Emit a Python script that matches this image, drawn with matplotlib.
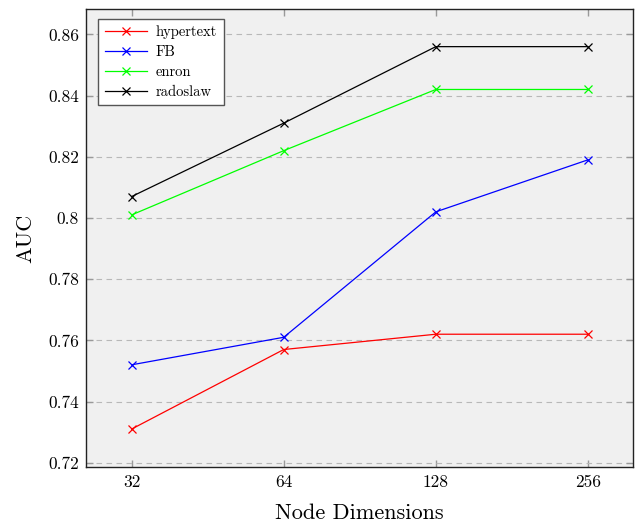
import numpy as np
import matplotlib
matplotlib.use("Agg")
import matplotlib.pyplot as plt

# DATA
dims = [32, 64, 128, 256]
hypertext = [0.731, 0.757, 0.762, 0.762]
fb = [0.752, 0.761, 0.802, 0.819]
enron = [0.801, 0.822, 0.842, 0.842]
radoslaw = [0.807, 0.831, 0.856, 0.856]
yticks = [0.72, 0.74, 0.76, 0.78, 0.80, 0.82, 0.84, 0.86]
ytick_labels = ["0.72", "0.74", "0.76", "0.78", "0.8", "0.82", "0.84", "0.86"]

plt.rcParams['font.family'] = ['cmr10', 'DejaVu Serif']
plt.rcParams['axes.formatter.use_mathtext'] = True

fig = plt.figure(figsize=(6.36, 5.24), dpi=100)
ax = fig.add_axes([0.1352, 0.1082, 0.860, 0.8746])
ax.set_facecolor("#f0f0f0")

series = [("hypertext", hypertext, "#ff0000"),
          ("FB", fb, "#0000ff"),
          ("enron", enron, "#00ff00"),
          ("radoslaw", radoslaw, "#000000")]
for name, vals, col in series:
    ax.plot(dims, vals, color=col, marker='x', markersize=5.5,
            linewidth=0.9, markeredgewidth=0.9, label=name, zorder=3)

# evenly spaced powers of two
ax.set_xscale('log', base=2)
ax.set_xlim(32 * 2 ** -0.3, 256 * 2 ** 0.296)
ax.set_xticks(dims)
ax.set_xticklabels([str(d) for d in dims])
ax.minorticks_off()
ax.set_ylim(0.7185, 0.8683)
ax.set_yticks(yticks)
ax.set_yticklabels(ytick_labels)

ax.grid(axis='y', linestyle=(0, (5, 4)), color="#b8b8b8", linewidth=0.8, zorder=0)
ax.tick_params(direction='in', length=5, color="#999999", top=True, right=True,
               labelsize=12.5, width=1, pad=5)
for s in ax.spines.values():
    s.set_color("#222222")
    s.set_linewidth(1.0)

ax.set_xlabel("Node Dimensions", fontsize=16, labelpad=10)
ax.set_ylabel("AUC", fontsize=16, labelpad=9)

leg = ax.legend(loc='upper left', bbox_to_anchor=(0.022, 0.978), fontsize=10.5,
                fancybox=False, framealpha=1, edgecolor="#555555",
                handlelength=2.9, handletextpad=0.6, borderpad=0.45,
                labelspacing=0.42, borderaxespad=0)
leg.get_frame().set_linewidth(1.0)

fig.savefig("out.png", dpi=100)
